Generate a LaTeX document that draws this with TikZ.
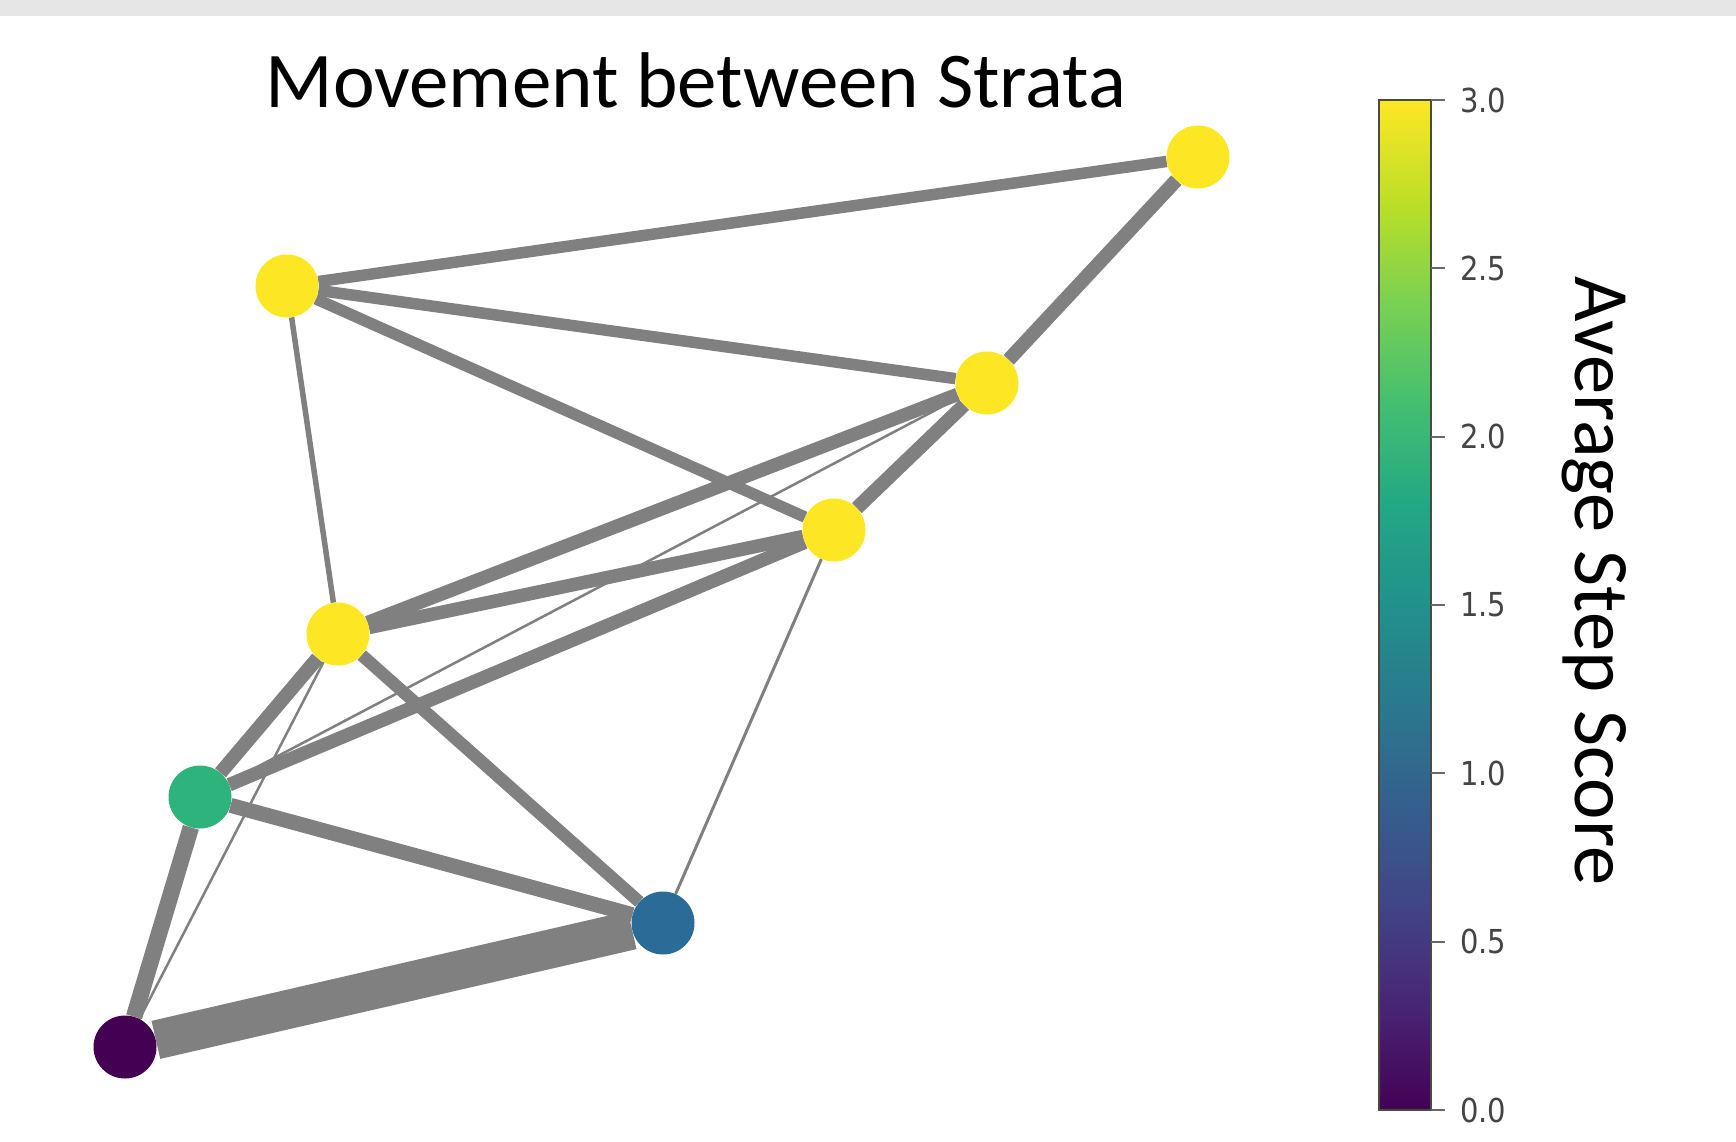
\documentclass[tikz,border=0pt]{standalone}
\usepackage{fontspec}
\setmainfont{Carlito}
\newfontfamily\tickfont{DejaVu Sans}
\usetikzlibrary{backgrounds}
\definecolor{edgegray}{HTML}{808080}
\definecolor{vyellow}{HTML}{FDE725}
\definecolor{vgreen}{HTML}{2EB37C}
\definecolor{vblue}{HTML}{2A6B98}
\definecolor{vpurple}{HTML}{440154}
\definecolor{topband}{HTML}{E6E6E6}
\definecolor{tickgray}{HTML}{444444}
\definecolor{framegray}{HTML}{4A4A40}
\definecolor{vir0}{HTML}{440154}
\definecolor{vir1}{HTML}{482475}
\definecolor{vir2}{HTML}{414487}
\definecolor{vir3}{HTML}{355F8D}
\definecolor{vir4}{HTML}{2A788E}
\definecolor{vir5}{HTML}{21918C}
\definecolor{vir6}{HTML}{22A884}
\definecolor{vir7}{HTML}{44BF70}
\definecolor{vir8}{HTML}{7AD151}
\definecolor{vir9}{HTML}{BDDF26}
\definecolor{vir10}{HTML}{FDE725}
\begin{document}
\begin{tikzpicture}[x=1pt,y=-1pt,
  stratum/.style={circle,minimum size=63pt,inner sep=0pt,draw=none},
  link/.style={draw=edgegray,line width=#1},
  ticklabel/.style={anchor=west,inner sep=0pt,xscale=0.88,font=\tickfont\fontsize{33}{33}\selectfont,text=tickgray}]
\useasboundingbox (0,0) rectangle (1736,1142);
\fill[topband] (0,0) rectangle (1736,16);

% title
\node (title) at (696,80) {\fontsize{79}{89}\selectfont Movement between Strata};

% nodes
\node[stratum,fill=vyellow] (A) at (1198,157) {};
\node[stratum,fill=vyellow] (B) at (287,286) {};
\node[stratum,fill=vyellow] (C) at (987,383) {};
\node[stratum,fill=vyellow] (D) at (834,530) {};
\node[stratum,fill=vyellow] (E) at (338,634) {};
\node[stratum,fill=vgreen] (F) at (200,797) {};
\node[stratum,fill=vblue] (G) at (663,923) {};
\node[stratum,fill=vpurple] (H) at (125,1047) {};

% edges
\begin{scope}[on background layer]
\draw[link=11.5pt] (A) -- (B);
\draw[link=14pt] (A) -- (C);
\draw[link=11.5pt] (B) -- (C);
\draw[link=11.5pt] (B) -- (D);
\draw[link=5.5pt] (B) -- (E);
\draw[link=13.5pt] (C) -- (E);
\draw[link=14pt] (C) -- (D);
\draw[link=2.5pt] (C) -- (F);
\draw[link=13.5pt] (D) -- (E);
\draw[link=13.5pt] (D) -- (F);
\draw[link=3pt] (D) -- (G);
\draw[link=14pt] (E) -- (F);
\draw[link=12.5pt] (E) -- (G);
\draw[link=2.5pt] (E) -- (H);
\draw[link=15pt] (F) -- (G);
\draw[link=16.5pt] (F) -- (H);
\draw[link=39pt] (G) -- (H);
\end{scope}

% colorbar
\foreach \i [evaluate=\i as \j using int(\i+1)] in {0,...,9}{
  \shade[bottom color=vir\i, top color=vir\j, draw=none]
    (1379,{1110-101*\i}) rectangle (1431,{1110-101*(\i+1)});
}
\node[draw=framegray,line width=2.5pt,minimum width=52pt,minimum height=1010pt,inner sep=0pt] (cbar) at (1405,605) {};
\foreach \v/\lab in {0/0.0,1/0.5,2/1.0,3/1.5,4/2.0,5/2.5,6/3.0}{
  \draw[tickgray!80,line width=2pt] (1431,{1110-168.33*\v}) -- (1445,{1110-168.33*\v});
  \node[ticklabel] (t\v) at (1460,{1110-168.33*\v}) {\lab};
}
\node[rotate=-90] (cblabel) at (1594,581) {\fontsize{78.5}{88}\selectfont Average Step Score};
\end{tikzpicture}
\end{document}
